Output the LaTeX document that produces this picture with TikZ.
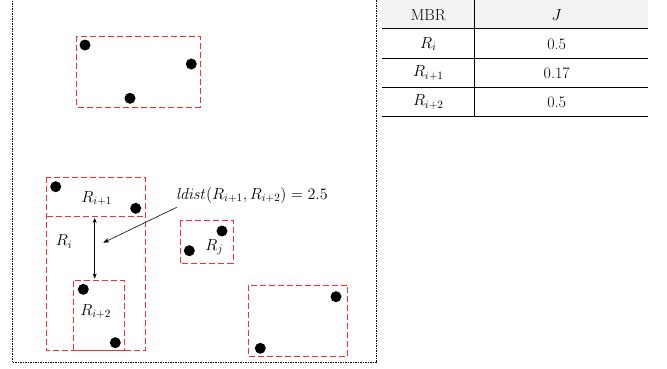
\documentclass[tikz,border=0pt]{standalone}
\usepackage{fix-cm}
\usepackage{amsmath}
\usetikzlibrary{arrows.meta}
\begin{document}
\begin{tikzpicture}[x=1pt,y=-1pt,
  mbr/.style={draw={rgb,255:red,255;green,45;blue,45},line width=1pt,dash pattern=on 6pt off 3pt},
  frame/.style={draw=black,line width=0.7pt,dash pattern=on 1.5pt off 1pt},
  pt/.style={circle,fill=black,inner sep=0pt,minimum size=11pt},
  lbl/.style={inner sep=0pt,font=\fontsize{16}{18}\selectfont},
  cell/.style={inner sep=0pt,font=\fontsize{16}{18}\selectfont},
  rule/.style={draw=black,line width=0.6pt}]
\useasboundingbox (0,0) rectangle (667,368);

% outer dotted frame (its top edge lies above the page)
\draw[frame] (12.3,-2) -- (12.3,362.7) -- (376.7,362.7) -- (376.7,-2);

% upper MBR with three points
\draw[mbr] (76.3,36.3) rectangle (200,107);
\node[pt] (a1) at (85,45) {};
\node[pt] (a2) at (191.3,64) {};
\node[pt] (a3) at (130,98.3) {};

% R_i and its children R_{i+1}, R_{i+2}
\draw[mbr] (46.7,177.3) rectangle (145.3,350.7);
\draw[mbr] (46.7,216.7) -- (145.3,216.7);
\draw[mbr] (73.7,280.7) rectangle (124.3,350.7);
\node[pt] (b1) at (55.7,186.7) {};
\node[pt] (b2) at (135.7,208.3) {};
\node[pt] (c1) at (83.3,289.3) {};
\node[pt] (c2) at (115.3,342.7) {};
\node[lbl] (ri1) at (96.7,198.5) {$R_{i+1}$};
\node[lbl] (ri) at (64,241.5) {$R_i$};
\node[lbl] (ri2) at (95.7,311.5) {$R_{i+2}$};

% distance between R_{i+1} and R_{i+2}
\coordinate (dtop) at (94.7,218);
\coordinate (dbot) at (94.7,278.5);
\draw[{Stealth[length=5pt,width=4pt]}-{Stealth[length=5pt,width=4pt]},line width=0.6pt] (dtop) -- (dbot);
\node[lbl,anchor=west] (ld) at (176,195) {$\mathit{ldist}(R_{i+1},R_{i+2})=2.5$};
\coordinate (ldfoot) at (176.7,207.3);
\coordinate (ldtip) at (103.3,242.7);
\draw[-{Stealth[length=6pt,width=4.5pt]},line width=0.6pt] (ldfoot) -- (ldtip);

% R_j
\draw[mbr] (180,220.7) rectangle (233.3,263.3);
\node[pt] (j1) at (222,231) {};
\node[pt] (j2) at (189.3,250.7) {};
\node[lbl] (rj) at (214.3,247) {$R_j$};

% lower-right MBR
\draw[mbr] (248.3,285) rectangle (347.3,356.7);
\node[pt] (e1) at (336,296.7) {};
\node[pt] (e2) at (260.3,348.3) {};

% table of J values
\fill[gray!10] (382,0) rectangle (648.3,28.3);
\draw[rule] (382,28.3) -- (648.3,28.3);
\draw[rule] (382,58.3) -- (648.3,58.3);
\draw[rule] (382,87.3) -- (648.3,87.3);
\draw[draw=black,line width=1.1pt] (382,116.7) -- (648.3,116.7);
\draw[rule] (474.3,0) -- (474.3,116.7);
\node[cell] (h1) at (428.3,15) {MBR};
\node[cell] (h2) at (556.7,15) {$J$};
\node[cell] (r1) at (428.3,44) {$R_i$};
\node[cell] (v1) at (556.7,44) {0.5};
\node[cell] (r2) at (428.3,73) {$R_{i+1}$};
\node[cell] (v2) at (556.7,73) {0.17};
\node[cell] (r3) at (428.3,102) {$R_{i+2}$};
\node[cell] (v3) at (556.7,102) {0.5};
\end{tikzpicture}
\end{document}
